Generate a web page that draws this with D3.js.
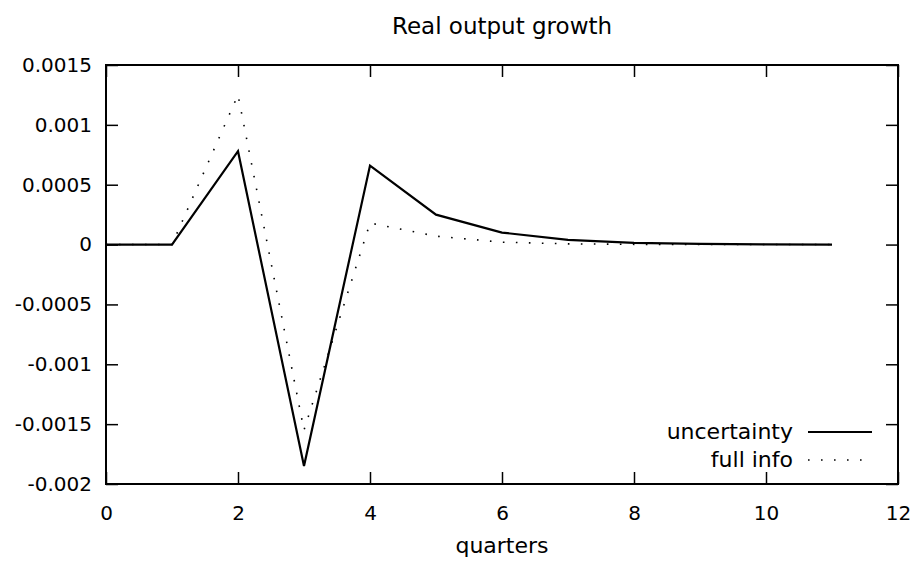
<!DOCTYPE html>
<html>
<head>
<meta charset="utf-8">
<script src="https://cdn.jsdelivr.net/npm/d3@7"></script>
<style>
  body { margin: 0; background: #fff; }
  text { font-family: "DejaVu Sans", Verdana, sans-serif; fill: #000; }
</style>
</head>
<body>
<svg width="916" height="562"></svg>
<script>
const svg = d3.select("svg")

// data
const quarters = [0, 1, 2, 3, 4, 5, 6, 7, 8, 9, 10, 11]
const uncertainty = [0, 0, 0.00078, -0.00185, 0.00066, 0.00025, 0.0001, 0.00004, 0.000015, 0.000005, 0.000002, 0]
const fullInfo = [0, 0, 0.00125, -0.00155, 0.00018, 0.00007, 0.00002, 0.000006, 0.000002, 0, 0, 0]
const xTicks = [0, 2, 4, 6, 8, 10, 12]
const yTicks = [0.0015, 0.001, 0.0005, 0, -0.0005, -0.001, -0.0015, -0.002]
const yTickLabels = ["0.0015", "0.001", "0.0005", "0", "-0.0005", "-0.001", "-0.0015", "-0.002"]

const margin = {top: 65, right: 18, bottom: 78, left: 106}
const width = 916, height = 562
const innerWidth = width - margin.left - margin.right
const innerHeight = height - margin.top - margin.bottom

const xScale = d3.scaleLinear().domain([0, 12]).range([0, innerWidth])
const yScale = d3.scaleLinear().domain([-0.002, 0.0015]).range([innerHeight, 0])

const g = svg.append("g")
    .attr("transform", `translate(${margin.left}, ${margin.top})`)

const tickLen = 12

// ticks pointing inward on all four sides, gnuplot style
const styleAxis = sel => {
    sel.select(".domain").remove()
    sel.attr("font-family", null).attr("font-size", null)
    sel.selectAll(".tick line").attr("stroke", "#000").attr("stroke-width", 1.5)
    sel.selectAll(".tick text").style("font-size", "20px")
}

g.append("g")
    .attr("transform", `translate(0, ${innerHeight})`)
    .call(d3.axisBottom(xScale).tickValues(xTicks).tickFormat(d3.format("d")).tickSizeInner(-tickLen).tickPadding(22))
    .call(styleAxis)

g.append("g")
    .call(d3.axisTop(xScale).tickValues(xTicks).tickSizeInner(-tickLen).tickFormat(""))
    .call(styleAxis)
    .selectAll(".tick text").remove()

g.append("g")
    .call(d3.axisLeft(yScale).tickValues(yTicks).tickFormat((d, i) => yTickLabels[i]).tickSizeInner(-tickLen).tickPadding(14))
    .call(styleAxis)

g.append("g")
    .attr("transform", `translate(${innerWidth}, 0)`)
    .call(d3.axisRight(yScale).tickValues(yTicks).tickSizeInner(-tickLen).tickFormat(""))
    .call(styleAxis)
    .selectAll(".tick text").remove()

g.append("rect")
    .attr("width", innerWidth)
    .attr("height", innerHeight)
    .attr("fill", "none")
    .attr("stroke", "#000")
    .attr("stroke-width", 2)

const line = d3.line()
    .x((d, i) => xScale(quarters[i]))
    .y(d => yScale(d))

g.append("path")
    .datum(fullInfo)
    .attr("d", line)
    .attr("fill", "none")
    .attr("stroke", "#000")
    .attr("stroke-width", 1.6)
    .attr("stroke-dasharray", "1.6,11.4")

g.append("path")
    .datum(uncertainty)
    .attr("d", line)
    .attr("fill", "none")
    .attr("stroke", "#000")
    .attr("stroke-width", 2.2)
    .attr("stroke-linejoin", "miter")

// legend
const legend = [
    {name: "uncertainty", dash: null, w: 2.2},
    {name: "full info", dash: "1.6,11.4", w: 1.6}
]
const lg = svg.append("g")
legend.forEach((d, i) => {
    const y = 432 + i * 28
    lg.append("text")
        .attr("x", 793).attr("y", y + 7)
        .attr("text-anchor", "end")
        .style("font-size", "22px")
        .text(d.name)
    lg.append("line")
        .attr("x1", 808).attr("x2", 872)
        .attr("y1", y).attr("y2", y)
        .attr("stroke", "#000")
        .attr("stroke-width", d.w)
        .attr("stroke-dasharray", d.dash)
})

svg.append("text")
    .attr("x", margin.left + innerWidth / 2).attr("y", 34)
    .attr("text-anchor", "middle")
    .style("font-size", "23px")
    .text("Real output growth")

svg.append("text")
    .attr("x", margin.left + innerWidth / 2).attr("y", 553)
    .attr("text-anchor", "middle")
    .style("font-size", "22px")
    .text("quarters")
</script>
</body>
</html>
